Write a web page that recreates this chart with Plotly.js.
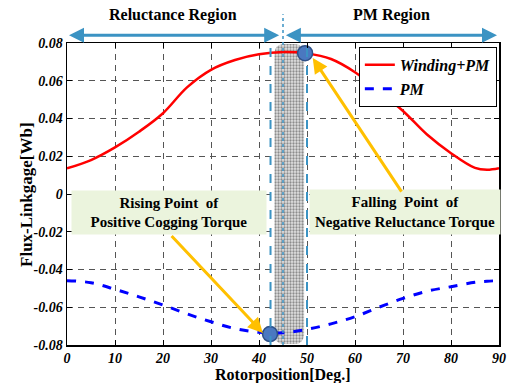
<!DOCTYPE html>
<html>
<head>
<meta charset="utf-8">
<script src="https://cdn.plot.ly/plotly-3.0.1.min.js"></script>
<style>html,body{margin:0;padding:0;background:#fff;}#chart{width:511px;height:383px;}</style>
</head>
<body>
<div id="chart"></div>
<script>
// ---- data ----
const rotorDeg = [0,5,10,15,20,25,30,35,40,45,50,55,60,65,70,75,80,85,87.5,90];
const windingPM = [0.0136,0.018,0.0247,0.033,0.0428,0.0565,0.0658,0.0710,0.0740,0.0752,0.0745,0.0715,0.0645,0.0545,0.044,0.0315,0.0216,0.0138,0.0128,0.0136];
const pmOnly = [-0.0459,-0.047,-0.0505,-0.0545,-0.0588,-0.0635,-0.0677,-0.0713,-0.0733,-0.0735,-0.0717,-0.0688,-0.065,-0.060,-0.0553,-0.0515,-0.0491,-0.0468,-0.0462,-0.0459];
const pointX = [49.6, 42.3];
const pointY = [0.0746, -0.0742];
const bandCenter = [46.3];
const bandHeight = [0.159];
const bandBase = [-0.0795];
const bandWidth = [6.2];
const boundaryDeg = 45;
const dashedDeg = [42.4, 50];
const xTicks = [0,10,20,30,40,50,60,70,80,90];
const xTickText = ['0','10','20','30','40','50','60','70','80','90'];
const yTicks = [-0.08,-0.06,-0.04,-0.02,0,0.02,0.04,0.06,0.08];
const yTickText = ['-0.08','-0.06','-0.04','-0.02','0','0.02','0.04','0.06','0.08'];
const seriesNames = ['Winding+PM','PM'];

const serif = 'Liberation Serif, DejaVu Serif, serif';
const cyan = '#3b93c3';

const traces = [
  {type:'bar', x:bandCenter, y:bandHeight, base:bandBase, width:bandWidth, showlegend:false, hoverinfo:'skip',
   marker:{color:'#a0a0a0', cornerradius:9, line:{width:0},
     pattern:{shape:'.', size:3, solidity:0.45, fgcolor:'#8c8c8c', bgcolor:'#e2e2e2'}}},
  {type:'scatter', mode:'lines', x:rotorDeg, y:windingPM, name:seriesNames[0], line:{color:'#ff0000', width:2.5, shape:'spline', smoothing:1}},
  {type:'scatter', mode:'lines', x:rotorDeg, y:pmOnly, name:seriesNames[1], line:{color:'#0000ff', width:3, dash:'dash', shape:'spline'}},
  {type:'scatter', mode:'markers', x:pointX, y:pointY, showlegend:false, hoverinfo:'skip',
   marker:{size:15, color:'#4a78c0', line:{color:'#2d4f86', width:1.5}}}
];

const grid = {showgrid:true, gridcolor:'#555', griddash:'6px,5px', gridwidth:1};
const tickFont = {family:serif, size:14, weight:'bold', style:'italic', color:'#000'};

const layout = {
  width:511, height:383,
  margin:{l:67, r:12, t:43, b:38},
  paper_bgcolor:'#fff', plot_bgcolor:'#fff',
  showlegend:true,
  barmode:'overlay',
  font:{family:serif, color:'#000'},
  xaxis:Object.assign({range:[0,90], tickvals:xTicks, ticktext:xTickText, ticks:'inside', ticklen:5, tickcolor:'#000',
    showline:true, linecolor:'#000', linewidth:1.5, mirror:'ticks', zeroline:false, automargin:false,
    tickfont:tickFont, ticklabelstandoff:0}, grid),
  yaxis:Object.assign({range:[-0.08,0.08], tickvals:yTicks, ticktext:yTickText, ticks:'inside', ticklen:5, tickcolor:'#000',
    showline:true, linecolor:'#000', linewidth:1.5, mirror:'ticks', zeroline:false, automargin:false,
    tickfont:tickFont}, grid),
  legend:{x:0.995, y:0.987, xanchor:'right', yanchor:'top', bgcolor:'#fff', bordercolor:'#000', borderwidth:1,
    font:{family:serif, size:16, weight:'bold', style:'italic'}, itemwidth:30, tracegroupgap:0},
  shapes:[
    {type:'line', xref:'x', yref:'paper', x0:boundaryDeg, x1:boundaryDeg, y0:0, y1:1.095, line:{color:cyan, width:1.5, dash:'dot'}},
    {type:'line', xref:'x', yref:'paper', x0:dashedDeg[0], x1:dashedDeg[0], y0:0, y1:1, line:{color:cyan, width:2, dash:'dash'}},
    {type:'line', xref:'x', yref:'paper', x0:dashedDeg[1], x1:dashedDeg[1], y0:0, y1:1, line:{color:cyan, width:2, dash:'dash'}}
  ],
  annotations:[
    {xref:'paper', yref:'paper', x:0.5, y:-0.1, yanchor:'middle', text:'Rotorposition[Deg.]', showarrow:false,
     font:{family:serif, size:16, weight:'bold'}},
    {xref:'paper', yref:'paper', x:-0.095, y:0.5, xanchor:'center', yanchor:'middle', textangle:-90, text:'Flux-Linkgage[Wb]', showarrow:false,
     font:{family:serif, size:17, weight:'bold'}},
    {xref:'x', yref:'paper', x:44.2, y:1.026, axref:'x', ayref:'pixel', ax:0.1, ay:0, text:'', showarrow:true,
     arrowside:'end+start', arrowhead:2, arrowsize:1, arrowwidth:3, arrowcolor:cyan},
    {xref:'x', yref:'paper', x:45.6, y:1.026, axref:'x', ayref:'pixel', ax:89.9, ay:0, text:'', showarrow:true,
     arrowside:'end+start', arrowhead:2, arrowsize:1, arrowwidth:3, arrowcolor:cyan},
    {xref:'x', yref:'paper', x:22.1, y:1.092, yanchor:'middle', text:'Reluctance Region', showarrow:false, font:{family:serif, size:16, weight:'bold'}},
    {xref:'x', yref:'paper', x:67.6, y:1.092, yanchor:'middle', text:'PM Region', showarrow:false, font:{family:serif, size:16, weight:'bold'}},
    {xref:'x', yref:'y', x:21.3, y:-0.0098, text:'Rising Point  of<br>Positive Cogging Torque', showarrow:false,
     width:192, height:41, bgcolor:'#ebf4dd', font:{family:serif, size:15, weight:'bold'}},
    {xref:'x', yref:'y', x:70.4, y:-0.0095, text:'Falling  Point  of<br>Negative Reluctance Torque', showarrow:false,
     width:188, height:42, bgcolor:'#ebf4dd', font:{family:serif, size:15, weight:'bold'}},
    {xref:'x', yref:'y', x:51.2, y:0.072, axref:'x', ayref:'y', ax:69.9, ay:0.0005, text:'', showarrow:true,
     arrowhead:2, arrowsize:1, arrowwidth:3, arrowcolor:'#ffc000'},
    {xref:'x', yref:'y', x:40.8, y:-0.0736, axref:'x', ayref:'y', ax:21.5, ay:-0.0215, text:'', showarrow:true,
     arrowhead:2, arrowsize:1, arrowwidth:3, arrowcolor:'#ffc000'}
  ]
};

Plotly.newPlot('chart', traces, layout, {displayModeBar:false, staticPlot:true});
</script>
</body>
</html>
